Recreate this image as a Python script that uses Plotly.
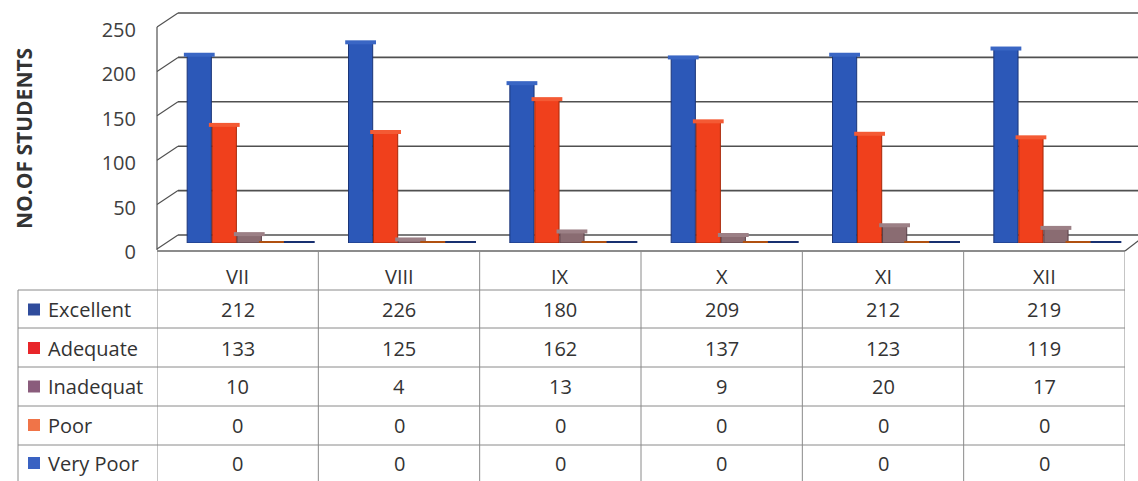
import plotly.graph_objects as go

# ---------------- data ----------------
categories = ["VII", "VIII", "IX", "X", "XI", "XII"]
series_names = ["Excellent", "Adequate", "Inadequat", "Poor", "Very Poor"]
excellent = [212, 226, 180, 209, 212, 219]
adequate = [133, 125, 162, 137, 123, 119]
inadequate = [10, 4, 13, 9, 20, 17]
poor = [0, 0, 0, 0, 0, 0]
very_poor = [0, 0, 0, 0, 0, 0]
y_ticks = [0, 50, 100, 150, 200, 250]
y_title = "NO.OF STUDENTS"

# ---------------- style ----------------
W, H = 1138, 481
FONT = "Open Sans"
TXT = "#333333"
series = [excellent, adequate, inadequate, poor, very_poor]
bar_colors = ["#2c58b8", "#f0401c", "#8a6c72", "#f07a30", "#2a54a8"]
edge_colors = ["#1b3578", "#a82808", "#5a4048", "#b05010", "#183070"]
cap_colors = ["#3a66c4", "#f45a34", "#9c8086", "#f48a44", "#2a4c98"]
legend_colors = ["#2f4c9c", "#e8262a", "#8a5c7c", "#f07448", "#3a62c2"]
offsets = [-0.238, -0.083, 0.072, 0.227, 0.382]
BAR_W = 0.15

def px(x):
    return x / W

def py(y):
    return 1 - y / H

fig = go.Figure()
for k, vals in enumerate(series):
    xs = [i + offsets[k] for i in range(len(categories))]
    fig.add_trace(go.Bar(
        x=xs, y=vals, width=BAR_W, name=series_names[k],
        marker=dict(color=bar_colors[k], line=dict(color=edge_colors[k], width=1)),
        showlegend=False,
    ))
for k, vals in enumerate(series):
    xs = [i + offsets[k] for i in range(len(categories))]
    fig.add_trace(go.Scatter(
        x=xs, y=vals, mode="markers", showlegend=False, hoverinfo="skip",
        marker=dict(symbol="line-ew", size=22,
                    line=dict(color=edge_colors[k] if max(vals) == 0 else cap_colors[k], width=4)),
    ))

shapes = []
GRID = "#505050"
TBL = "#8a8a8a"
# 3D walls: back wall gridlines and side wall diagonals
for v in y_ticks:
    yb = 235 - v * 0.888
    yf = yb + 14
    shapes.append(dict(type="line", xref="paper", yref="paper", x0=px(178), x1=px(1145),
                       y0=py(yb), y1=py(yb), line=dict(color=GRID, width=1.6), layer="below"))
    shapes.append(dict(type="line", xref="paper", yref="paper", x0=px(157), x1=px(178),
                       y0=py(yf), y1=py(yb), line=dict(color=GRID, width=1.2), layer="below"))
shapes.append(dict(type="line", xref="paper", yref="paper", x0=px(157), x1=px(157),
                   y0=py(27), y1=py(250), line=dict(color=GRID, width=1.2), layer="below"))
# floor front edge and right diagonal
shapes.append(dict(type="line", xref="paper", yref="paper", x0=px(157), x1=px(1125),
                   y0=py(251), y1=py(251), line=dict(color="#666666", width=1.5)))
shapes.append(dict(type="line", xref="paper", yref="paper", x0=px(1125), x1=px(1142),
                   y0=py(251), y1=py(238), line=dict(color=GRID, width=1.2)))

# data table
header_center = 276
row_centers = [309.5, 348, 386.5, 425, 463]
row_lines = [290, 328, 367, 406, 445]
for yl in row_lines:
    shapes.append(dict(type="line", xref="paper", yref="paper", x0=px(18), x1=px(1125),
                       y0=py(yl), y1=py(yl), line=dict(color=TBL, width=1)))
shapes.append(dict(type="line", xref="paper", yref="paper", x0=px(18), x1=px(18),
                   y0=py(290), y1=0, line=dict(color=TBL, width=1)))
for i in range(len(categories) + 1):
    shapes.append(dict(type="line", xref="x", yref="paper", x0=i - 0.5, x1=i - 0.5,
                       y0=py(251), y1=0, line=dict(color=TBL, width=1)))
for k, yc in enumerate(row_centers):
    shapes.append(dict(type="rect", xref="paper", yref="paper", x0=px(28), x1=px(40),
                       y0=py(yc + 6), y1=py(yc - 6), line=dict(width=0),
                       fillcolor=legend_colors[k]))

annotations = []
for i, c in enumerate(categories):
    annotations.append(dict(x=i, xref="x", y=py(header_center), yref="paper", text=c,
                            showarrow=False, yanchor="middle",
                            font=dict(family=FONT, size=20, color=TXT)))
for k, vals in enumerate(series):
    annotations.append(dict(x=px(46), xref="paper", y=py(row_centers[k]), yref="paper",
                            text=series_names[k], showarrow=False, xanchor="left", yanchor="middle",
                            font=dict(family=FONT, size=20, color=TXT)))
    for i, v in enumerate(vals):
        annotations.append(dict(x=i, xref="x", y=py(row_centers[k]), yref="paper",
                                text=str(v), showarrow=False, yanchor="middle",
                                font=dict(family=FONT, size=20, color=TXT)))
annotations.append(dict(x=px(24), xref="paper", y=py(139), yref="paper", text="<b>" + y_title + "</b>",
                        textangle=-90, showarrow=False, xanchor="center", yanchor="middle",
                        font=dict(family=FONT, size=21, color=TXT)))

fig.update_layout(
    width=W, height=H,
    margin=dict(l=0, r=0, t=0, b=0, autoexpand=False),
    paper_bgcolor="white", plot_bgcolor="rgba(0,0,0,0)",
    barmode="overlay",
    xaxis=dict(domain=[px(157), px(1125)], range=[-0.5, len(categories) - 0.5],
               showgrid=False, zeroline=False, showticklabels=False, showline=False,
               automargin=False),
    yaxis=dict(domain=[py(243), py(21)], range=[0, 250], tickvals=y_ticks,
               showgrid=False, zeroline=False, showline=False, ticks="",
               ticklabelshift=9, ticklabelstandoff=20, automargin=False,
               ticklabeloverflow="allow",
               tickfont=dict(family=FONT, size=20, color="#404040")),
    shapes=shapes, annotations=annotations,
    font=dict(family=FONT),
)

fig.write_html("out.html", config={"displayModeBar": False},
               post_script="document.body.style.margin='0px';")
